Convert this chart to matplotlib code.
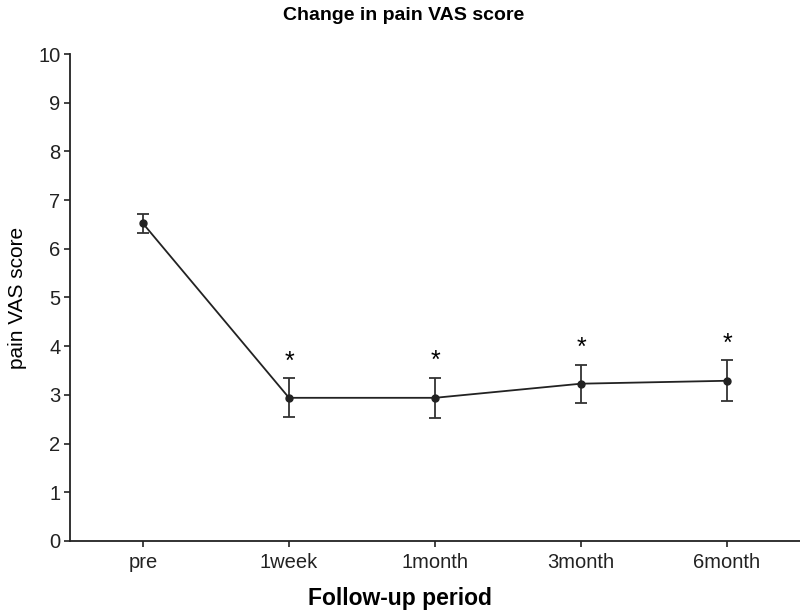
import matplotlib
matplotlib.use('Agg')
import matplotlib.pyplot as plt
import numpy as np

periods = ['pre', '1week', '1month', '3month', '6month']
vas_mean = [6.52, 2.94, 2.94, 3.23, 3.29]
vas_err = [0.20, 0.40, 0.41, 0.39, 0.42]
significant = [False, True, True, True, True]

plt.rcParams['font.family'] = ['Liberation Sans', 'DejaVu Sans']

fig = plt.figure(figsize=(8, 6.11), dpi=100)
ax = fig.add_axes([0.0875, 0.1146, 0.9125, 0.797])

x = np.arange(len(periods))
ax.errorbar(x, vas_mean, yerr=vas_err, color='#222222', lw=1.3, marker='o', ms=5,
            capsize=4, elinewidth=1.3, capthick=1.3, ecolor='#333333')

# asterisks above the error bars
for xi, m, e, s in zip(x, vas_mean, vas_err, significant):
    if s:
        ax.text(xi, m + e + 0.1, '*', ha='center', va='bottom', fontsize=18)

ax.set_xlim(-0.5, 4.5)
ax.set_ylim(0, 10)
ax.set_yticks(range(0, 11))
ax.set_xticks(x)
ax.set_xticklabels(periods)
ax.tick_params(labelsize=14.5, length=4, width=1.2, direction='out', colors='#222222')
ax.tick_params(axis='x', pad=5)
ax.tick_params(axis='y', pad=3)
for s in ['top', 'right']:
    ax.spines[s].set_visible(False)
for s in ['left', 'bottom']:
    ax.spines[s].set_linewidth(1.3)
    ax.spines[s].set_color('#222222')

ax.set_ylabel('pain VAS score', fontsize=15, labelpad=8)
fig.text(0.5, 0.021, 'Follow-up period', ha='center', va='center',
         fontsize=16.5, fontweight='bold')
fig.text(0.505, 0.975, 'Change in pain VAS score', ha='center', va='center',
         fontsize=14, fontweight='bold')

plt.savefig('out.png')
